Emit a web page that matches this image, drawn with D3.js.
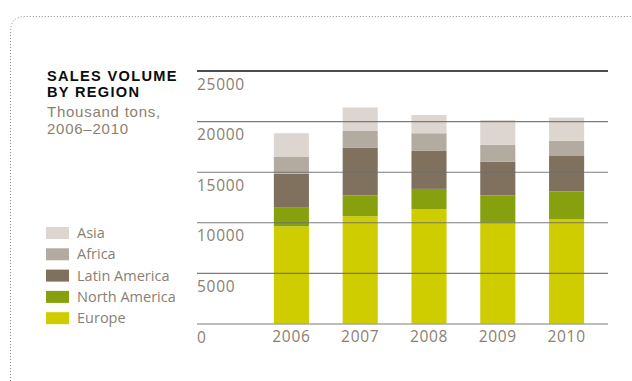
<!DOCTYPE html>
<html>
<head>
<meta charset="utf-8">
<script src="https://cdn.jsdelivr.net/npm/d3@7"></script>
<style>
  html, body { margin: 0; padding: 0; background: #fff; }
  svg { display: block; }
</style>
</head>
<body>
<svg id="chart" width="632" height="381"></svg>
<script>
// Sales volume by region, thousand tons
const years = ["2006", "2007", "2008", "2009", "2010"];
const regions = ["Europe", "North America", "Latin America", "Africa", "Asia"];
const europe       = [9600, 10600, 11300, 10000, 10300];
const northAmerica = [1900,  2050,  2000,  2650,  2750];
const latinAmerica = [3300,  4700,  3750,  3350,  3500];
const africa       = [1700,  1700,  1750,  1650,  1500];
const asia         = [2300,  2300,  1800,  2450,  2300];
const yTicks = [0, 5000, 10000, 15000, 20000, 25000];

const seriesValues = {
  "Europe": europe,
  "North America": northAmerica,
  "Latin America": latinAmerica,
  "Africa": africa,
  "Asia": asia
};
const colors = {
  "Europe": "#cfcc00",
  "North America": "#86a00e",
  "Latin America": "#7f715d",
  "Africa": "#b4aba0",
  "Asia": "#ddd6d0"
};

const svg = d3.select("#chart");
const textColor = "#8a7f72";
const bodyFont = "\"Open Sans\", \"DejaVu Sans\", sans-serif";
const titleFont = "\"Liberation Sans\", Arial, sans-serif";

// dotted frame with a rounded top-left corner
const r = 15;
svg.append("path")
  .attr("d", `M10.5,381 L10.5,${16.5 + r} Q10.5,16.5 ${10.5 + r},16.5 L632,16.5`)
  .attr("fill", "none")
  .attr("stroke", "#8c8c8c")
  .attr("stroke-width", 1)
  .attr("stroke-dasharray", "1 2");

// title block: two bold lines, then the unit note (compact face for tight leading)
const title = svg.append("text")
  .style("font-family", titleFont)
  .style("font-size", "14.6px").style("font-weight", 700)
  .style("letter-spacing", "1.3px")
  .attr("fill", "#0d0d0d");
title.append("tspan").attr("x", 47).attr("y", 80.5).text("SALES VOLUME");
title.append("tspan").attr("x", 47).attr("y", 97).text("BY REGION");

const sub = svg.append("text")
  .style("font-family", titleFont)
  .style("font-size", "15px")
  .style("letter-spacing", "0.75px")
  .attr("fill", textColor);
sub.append("tspan").attr("x", 47).attr("y", 116.7).text("Thousand tons,");
sub.append("tspan").attr("x", 47).attr("y", 134.2).text("2006–2010");

// scales
const x = d3.scaleBand().domain(years).range([257, 601])
  .paddingInner(0.49).paddingOuter(0.245);
const y = d3.scaleLinear().domain([0, 25000]).range([323.5, 70.5]);

// stacked data
const table = years.map((yr, i) => {
  const row = { year: yr };
  regions.forEach(k => { row[k] = seriesValues[k][i]; });
  return row;
});
const stack = d3.stack().keys(regions)(table);

svg.append("g").selectAll("g").data(stack).join("g")
  .attr("fill", d => colors[d.key])
  .selectAll("rect").data(d => d).join("rect")
  .attr("x", d => x(d.data.year))
  .attr("width", x.bandwidth())
  .attr("y", d => y(d[1]))
  .attr("height", d => y(d[0]) - y(d[1]));

// horizontal grid lines drawn over the bars, labels sit beneath each line
const gridX0 = 197, gridX1 = 608;
const yAxis = d3.axisRight(y).tickValues(yTicks)
  .tickSize(gridX1 - gridX0).tickFormat(d => d).tickPadding(0);
const axisG = svg.append("g").attr("transform", `translate(${gridX0},0)`).call(yAxis);
axisG.select(".domain").remove();
axisG.selectAll(".tick line")
  .attr("stroke", d => d === 25000 ? "#111" : "#6e6e6e")
  .attr("stroke-width", d => d === 25000 ? 1.3 : 1.1)
  .attr("stroke-opacity", d => d === 25000 ? 1 : 0.9);
axisG.selectAll(".tick text")
  .attr("x", 0).attr("dy", 0).attr("y", 18.5)
  .attr("text-anchor", "start")
  .style("font-family", bodyFont)
  .style("font-size", "15.5px").style("letter-spacing", "0.7px")
  .attr("fill", textColor);

// year labels
const xAxis = d3.axisBottom(x).tickSize(0).tickPadding(0);
const xG = svg.append("g").attr("transform", "translate(0,323.5)").call(xAxis);
xG.select(".domain").remove();
xG.selectAll(".tick text")
  .attr("dy", 0).attr("y", 18)
  .style("font-family", bodyFont)
  .style("font-size", "15.5px").style("letter-spacing", "0.7px")
  .attr("fill", textColor);

// legend, top to bottom: Asia ... Europe
const legendOrder = regions.slice().reverse();
const lg = svg.append("g").selectAll("g").data(legendOrder).join("g")
  .attr("transform", (d, i) => `translate(46,${227 + i * 21.3})`);
lg.append("rect").attr("width", 23).attr("height", 12)
  .attr("fill", d => colors[d]);
lg.append("text").attr("x", 31).attr("y", 11)
  .style("font-family", bodyFont).style("font-size", "14.5px")
  .attr("fill", textColor)
  .text(d => d);
</script>
</body>
</html>
